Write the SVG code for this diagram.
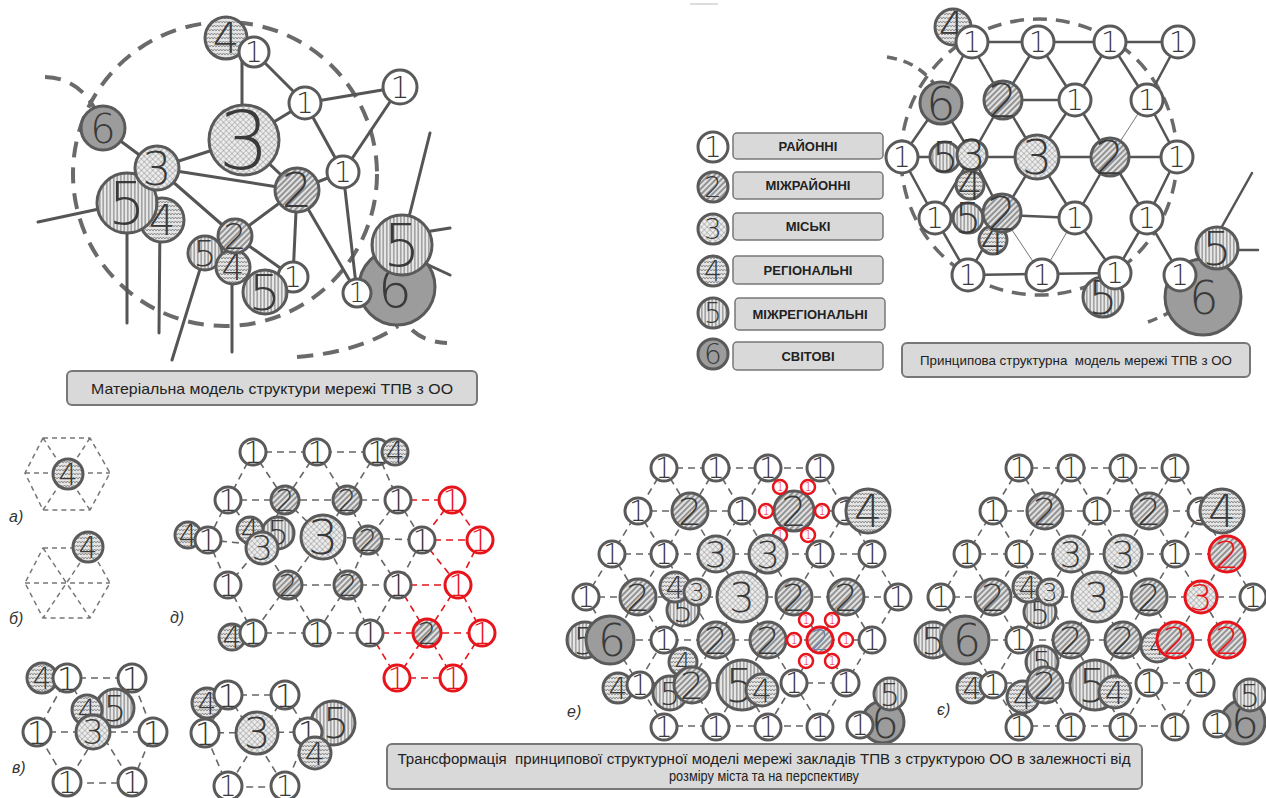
<svg xmlns="http://www.w3.org/2000/svg" width="1266" height="798" viewBox="0 0 1266 798">
<defs>
<pattern id="p2" width="4" height="4" patternUnits="userSpaceOnUse" patternTransform="rotate(45)"><rect width="4" height="4" fill="#e2e2e2"/><path d="M1,0V4" stroke="#5e5e5e" stroke-width="1.2"/></pattern>
<pattern id="p3" width="4" height="4" patternUnits="userSpaceOnUse" patternTransform="rotate(45)"><rect width="4" height="4" fill="#ececec"/><path d="M0,0H4M0,0V4" stroke="#8a8a8a" stroke-width="0.9"/></pattern>
<pattern id="p4" width="6" height="4" patternUnits="userSpaceOnUse"><rect width="6" height="4" fill="#e4e4e4"/><path d="M0,3L1.5,1L3,3L4.5,1L6,3" fill="none" stroke="#7a7a7a" stroke-width="0.8"/></pattern>
<pattern id="p5" width="3.5" height="4" patternUnits="userSpaceOnUse"><rect width="3.5" height="4" fill="#eaeaea"/><path d="M1.75,0V4" stroke="#6e6e6e" stroke-width="1"/></pattern>
</defs>
<style>
.ln{stroke:#555;stroke-width:3;fill:none;stroke-linecap:round;stroke-linejoin:round}
.lt{stroke:#777;stroke-width:1;fill:none}
.dc{fill:none;stroke:#6a6a6a;stroke-width:4;stroke-dasharray:16 10}
.dl{fill:none;stroke:#666;stroke-width:1.6;stroke-dasharray:7 5}
.dr{fill:none;stroke:#e8141b;stroke-width:1.6;stroke-dasharray:7 5}
.ds{fill:none;stroke:#777;stroke-width:1.5;stroke-dasharray:5 4}
circle{stroke:#5a5a5a;stroke-width:3}
.k1{fill:#fff}.k2{fill:url(#p2)}.k3{fill:url(#p3)}.k4{fill:url(#p4)}.k5{fill:url(#p5)}.k6{fill:#9c9c9c}
.red{stroke:#e8141b}
.sm{stroke-width:2.5}
text.d{font-family:"DejaVu Sans",sans-serif;font-weight:200;fill:#3a3a3a;text-anchor:middle}
text.rd{fill:#e8141b}
.lab{font-family:"Liberation Sans",Arial,sans-serif;font-style:italic;font-size:16px;fill:#333}
.box{fill:#d9d9d9;stroke:#777;stroke-width:2}
.cap{font-family:"Liberation Sans",Arial,sans-serif;fill:#222;text-anchor:middle}
.leg{font-family:"Liberation Sans",Arial,sans-serif;font-weight:bold;font-size:13px;fill:#222;text-anchor:middle}
</style>
<rect width="1266" height="798" fill="#fff"/>
<path d="M690,4 H718" stroke="#bbb" stroke-width="1"/>

<!-- boundaries -->
<g id="boundaries">
<circle class="dc" cx="225" cy="174" r="152"/>
<path class="dc" d="M45,77 Q80,78 97,113"/>
<path class="dc" d="M297,357 Q360,352 398,326"/>
<path class="dc" d="M412,330 Q425,342 447,343"/>
<circle class="dc" cx="1039" cy="157" r="138" style="stroke-width:3.5;stroke-dasharray:14 9"/>
<path class="dc" d="M887,57 Q920,62 937,88" style="stroke-width:3.5;stroke-dasharray:10 7"/>
<path class="dc" d="M1148,322 Q1175,312 1200,292" style="stroke-width:3.5;stroke-dasharray:10 7"/>
</g>

<g id="connectors">
<g id="conn-material">
<path class="ln" d="M103,128 L157,168 L244,140 M157,168 L297,190 M157,168 L235,236 M38,222 L127,203 M127,203 V323 M160,220 L159,333 M205,253 L172,360 M232,267 L232,352 M242,50 V140 M254,52 L305,103 L400,87 L343,172 L305,103 M244,140 L305,103 M244,140 L297,190 L343,172 L357,293 M297,190 L235,236 L293,277 L297,190 L357,293 M402,245 L430,133 M425,232 L450,228 M422,262 L450,275"/>
</g>
<g id="conn-principal">
<path class="ln" style="stroke-width:2.5" d="M970,42 H1178 M1003,100 H1075 M902,157 H1177 M1002,215 L1075,218 M968,275 L1115,273 M970,42 L940,102 L902,157 L935,218 L968,275 M970,42 L1003,100 L1037,157 L1075,218 L1115,273 M1038,42 L1003,100 L972,155 L935,218 M1038,42 L1075,100 L1110,157 L1147,218 L1180,275 L1203,297 M1110,42 L1075,100 L1037,157 L1002,215 L968,275 M1110,42 L1147,100 L1177,157 M1178,42 L1147,100 M1110,157 L1075,218 M1177,157 L1147,218 L1115,273 M940,102 L972,155 L1002,215 M1220,230 L1252,173 M1233,250 L1258,250"/>
<path class="lt" d="M1147,100 L1110,157 M1002,215 L1042,275 M1075,218 L1042,275"/>
</g>
<g id="conn-a">
<path class="ds" d="M43,438 H90 L110,473 L90,510 H43 L25,473 Z M43,438 L90,510 M90,438 L43,510 M25,473 H110"/>
</g>
<g id="conn-b">
<path class="ds" d="M43,548 H90 L110,583 L90,618 H43 L25,583 Z M43,548 L90,618 M90,548 L43,618 M25,583 H110"/>
</g>
<g id="conn-v1">
<path class="dl" d="M67,678 H132 L153,732 L132,783 H67 L37,732 Z M67,678 L132,783 M132,678 L67,783 M37,732 H153"/>
</g>
<g id="conn-v2">
<path class="dl" d="M228,695 H285 L308,732 L285,787 H228 L205,733 Z M228,695 L285,787 M285,695 L228,787 M205,733 L308,732"/>
</g>
<g id="conn-d">
<path class="dl" d="M253,452 H377 M228,500 H398 M208,540 L262,545 M323,537 L422,540 M288,585 H398 M253,633 H370 M253,452 L228,500 M253,452 L285,500 M317,452 L285,500 M317,452 L347,500 M377,452 L347,500 M377,452 L398,500 M228,500 L208,540 M228,500 L262,545 M285,500 L262,545 M285,500 L323,537 M347,500 L323,537 M347,500 L368,540 M398,500 L368,540 M398,500 L422,540 M208,540 L228,585 M262,545 L228,585 M262,545 L288,585 M323,537 L288,585 M323,537 L348,585 M368,540 L348,585 M368,540 L398,585 M422,540 L398,585 M228,585 L253,633 M288,585 L253,633 M288,585 L317,633 M348,585 L317,633 M348,585 L370,633 M398,585 L370,633"/>
<path class="dr" d="M398,500 H452 M452,500 L422,540 M452,500 L480,540 M422,540 H480 M422,540 L458,585 M480,540 L458,585 M398,585 H458 M398,585 L427,633 M458,585 L427,633 M458,585 L482,633 M370,633 H482 M370,633 L397,678 M427,633 L397,678 M427,633 L453,678 M482,633 L453,678 M397,678 H453"/>
</g>
<g id="conn-e">
<path class="dl" d="M664,468 H820 M638,511 H846 M612,554 H872 M586,597 H898 M612,640 H872 M638,683 H846 M664,726 H820 M586,597 L664,726 M612,554 L716,726 M638,511 L768,726 M664,468 L820,726 M716,468 L846,683 M768,468 L872,640 M820,468 L898,597 M820,468 L664,726 M768,468 L638,683 M716,468 L612,640 M664,468 L586,597 M846,511 L716,726 M872,554 L768,726 M898,597 L820,726"/>
</g>
<g id="conn-ye">
<path class="dl" d="M1019,468 H1175 M993,511 H1201 M967,554 H1227 M941,597 H1253 M967,640 H1227 M993,683 H1201 M1019,726 H1175 M941,597 L1019,726 M967,554 L1071,726 M993,511 L1123,726 M1019,468 L1175,726 M1071,468 L1201,683 M1123,468 L1227,640 M1175,468 L1253,597 M1175,468 L1019,726 M1123,468 L993,683 M1071,468 L967,640 M1019,468 L941,597 M1201,511 L1071,726 M1227,554 L1123,726 M1253,597 L1175,726"/>
</g>
</g>

<!-- material model nodes -->
<g id="material">
<g id="m6a"><circle class="k6" cx="103" cy="128" r="22"/><text class="d" x="103" y="143" font-size="40">6</text></g>
<g id="m4t"><circle class="k4" cx="226" cy="38" r="21"/><text class="d" x="226" y="53" font-size="42">4</text></g>
<g id="m1a"><circle class="k1" cx="254" cy="52" r="15"/><text class="d" x="254" y="62" font-size="28">1</text></g>
<g id="m1b"><circle class="k1" cx="305" cy="103" r="16"/><text class="d" x="305" y="113" font-size="28">1</text></g>
<g id="m1c"><circle class="k1" cx="400" cy="87" r="17"/><text class="d" x="400" y="98" font-size="30">1</text></g>
<g id="m3b"><circle class="k3" cx="244" cy="140" r="35"/><text class="d" x="244" y="169" font-size="80">3</text></g>
<g id="m4l"><circle class="k4" cx="162" cy="220" r="22"/><text class="d" x="162" y="235" font-size="42">4</text></g>
<g id="m5l"><circle class="k5" cx="127" cy="203" r="30"/><text class="d" x="127" y="224" font-size="58">5</text></g>
<g id="m3s"><circle class="k3" cx="157" cy="168" r="22"/><text class="d" x="157" y="185" font-size="46">3</text></g>
<g id="m1d"><circle class="k1" cx="343" cy="172" r="16"/><text class="d" x="343" y="182" font-size="28">1</text></g>
<g id="m2"><circle class="k2" cx="297" cy="190" r="22"/><text class="d" x="297" y="207" font-size="48">2</text></g>
<g id="m5s"><circle class="k5" cx="205" cy="253" r="17"/><text class="d" x="205" y="266" font-size="36">5</text></g>
<g id="m4s"><circle class="k4" cx="233" cy="267" r="17"/><text class="d" x="233" y="280" font-size="36">4</text></g>
<g id="m2s"><circle class="k2" cx="235" cy="236" r="17"/><text class="d" x="235" y="249" font-size="36">2</text></g>
<g id="m1e"><circle class="k1" cx="293" cy="277" r="15"/><text class="d" x="293" y="287" font-size="28">1</text></g>
<g id="m5b"><circle class="k5" cx="265" cy="292" r="22"/><text class="d" x="265" y="310" font-size="50">5</text></g>
<g id="m6b"><circle class="k6" cx="397" cy="287" r="38"/><text class="d" x="395" y="307" font-size="54">6</text></g>
<g id="m5r"><circle class="k5" cx="402" cy="245" r="30"/><text class="d" x="402" y="266" font-size="58">5</text></g>
<g id="m1f"><circle class="k1" cx="357" cy="293" r="14"/><text class="d" x="357" y="302" font-size="26">1</text></g>
</g>

<!-- legend -->
<g id="legend">
<g id="leg1"><circle class="k1" cx="713" cy="147" r="15"/><text class="d" x="713" y="157" font-size="28">1</text><rect class="box" x="733" y="133" width="150" height="26" rx="4" style="stroke-width:1.5"/><text class="leg" x="808" y="151">РАЙОННІ</text></g>
<g id="leg2"><circle class="k2" cx="713" cy="187" r="15"/><text class="d" x="713" y="197" font-size="28">2</text><rect class="box" x="733" y="172" width="150" height="27" rx="4" style="stroke-width:1.5"/><text class="leg" x="808" y="190">МІЖРАЙОННІ</text></g>
<g id="leg3"><circle class="k3" cx="713" cy="229" r="15"/><text class="d" x="713" y="239" font-size="28">3</text><rect class="box" x="733" y="213" width="150" height="27" rx="4" style="stroke-width:1.5"/><text class="leg" x="808" y="231">МІСЬКІ</text></g>
<g id="leg4"><circle class="k4" cx="713" cy="271" r="15"/><text class="d" x="713" y="281" font-size="28">4</text><rect class="box" x="733" y="256" width="150" height="28" rx="4" style="stroke-width:1.5"/><text class="leg" x="808" y="275">РЕГІОНАЛЬНІ</text></g>
<g id="leg5"><circle class="k5" cx="713" cy="313" r="15"/><text class="d" x="713" y="323" font-size="28">5</text><rect class="box" x="735" y="298" width="150" height="32" rx="4" style="stroke-width:1.5"/><text class="leg" x="810" y="319">МІЖРЕГІОНАЛЬНІ</text></g>
<g id="leg6"><circle class="k6" cx="713" cy="354" r="15"/><text class="d" x="713" y="364" font-size="28">6</text><rect class="box" x="733" y="342" width="150" height="28" rx="4" style="stroke-width:1.5"/><text class="leg" x="808" y="361">СВІТОВІ</text></g>
</g>

<!-- principal model nodes -->
<g id="principal">
<g id="p4t"><circle class="k4" cx="953" cy="27" r="18"/><text class="d" x="952" y="42" font-size="42">4</text></g>
<g id="pa1"><circle class="k1" cx="972" cy="42" r="16"/><text class="d" x="972" y="52" font-size="28">1</text></g>
<g id="pa2"><circle class="k1" cx="1038" cy="42" r="16"/><text class="d" x="1038" y="52" font-size="28">1</text></g>
<g id="pa3"><circle class="k1" cx="1110" cy="42" r="16"/><text class="d" x="1110" y="52" font-size="28">1</text></g>
<g id="pa4"><circle class="k1" cx="1178" cy="42" r="16"/><text class="d" x="1178" y="52" font-size="28">1</text></g>
<g id="p6"><circle class="k6" cx="941" cy="103" r="21"/><text class="d" x="941" y="120" font-size="46">6</text></g>
<g id="p2a"><circle class="k2" cx="1003" cy="100" r="19"/><text class="d" x="1003" y="117" font-size="46">2</text></g>
<g id="pb2"><circle class="k1" cx="1075" cy="100" r="16"/><text class="d" x="1075" y="110" font-size="28">1</text></g>
<g id="pb3"><circle class="k1" cx="1147" cy="100" r="16"/><text class="d" x="1147" y="110" font-size="28">1</text></g>
<g id="pc0"><circle class="k1" cx="902" cy="157" r="16"/><text class="d" x="902" y="167" font-size="28">1</text></g>
<g id="p4m"><circle class="k4" cx="970" cy="185" r="14"/><text class="d" x="970" y="200" font-size="40">4</text></g>
<g id="p5a"><circle class="k5" cx="945" cy="157" r="15"/><text class="d" x="945" y="172" font-size="42">5</text></g>
<g id="p3s"><circle class="k3" cx="972" cy="155" r="15"/><text class="d" x="972" y="170" font-size="42">3</text></g>
<g id="p3b"><circle class="k3" cx="1037" cy="157" r="22"/><text class="d" x="1037" y="174" font-size="48">3</text></g>
<g id="p2b"><circle class="k2" cx="1110" cy="157" r="19"/><text class="d" x="1110" y="174" font-size="46">2</text></g>
<g id="pc4"><circle class="k1" cx="1177" cy="157" r="16"/><text class="d" x="1177" y="167" font-size="28">1</text></g>
<g id="pd0"><circle class="k1" cx="935" cy="218" r="16"/><text class="d" x="935" y="228" font-size="28">1</text></g>
<g id="p5b"><circle class="k5" cx="968" cy="218" r="15"/><text class="d" x="968" y="233" font-size="42">5</text></g>
<g id="p4b"><circle class="k4" cx="993" cy="240" r="14"/><text class="d" x="993" y="255" font-size="40">4</text></g>
<g id="p2c"><circle class="k2" cx="1002" cy="213" r="19"/><text class="d" x="1002" y="230" font-size="46">2</text></g>
<g id="pd2"><circle class="k1" cx="1075" cy="218" r="16"/><text class="d" x="1075" y="228" font-size="28">1</text></g>
<g id="pd3"><circle class="k1" cx="1147" cy="218" r="16"/><text class="d" x="1147" y="228" font-size="28">1</text></g>
<g id="p5c"><circle class="k5" cx="1103" cy="297" r="20"/><text class="d" x="1103" y="314" font-size="46">5</text></g>
<g id="pe0"><circle class="k1" cx="968" cy="275" r="16"/><text class="d" x="968" y="285" font-size="28">1</text></g>
<g id="pe1"><circle class="k1" cx="1042" cy="275" r="16"/><text class="d" x="1042" y="285" font-size="28">1</text></g>
<g id="pe2"><circle class="k1" cx="1115" cy="273" r="16"/><text class="d" x="1115" y="283" font-size="28">1</text></g>
<g id="p6r"><circle class="k6" cx="1203" cy="297" r="38"/><text class="d" x="1204" y="314" font-size="46">6</text></g>
<g id="p5r"><circle class="k5" cx="1217" cy="248" r="21"/><text class="d" x="1217" y="265" font-size="46">5</text></g>
<g id="pe3"><circle class="k1" cx="1180" cy="275" r="16"/><text class="d" x="1180" y="285" font-size="28">1</text></g>
</g>

<!-- а), б) -->
<g id="a4"><circle class="k4" cx="68" cy="474" r="15"/><text class="d" x="68" y="485" font-size="30">4</text></g>
<g id="b4"><circle class="k4" cx="88" cy="547" r="15"/><text class="d" x="88" y="558" font-size="30">4</text></g>

<!-- в) group 1 -->
<g id="v1">
<g id="v1-4a"><circle class="k4" cx="42" cy="678" r="15"/><text class="d" x="42" y="689" font-size="30">4</text></g>
<g id="v1-1a"><circle class="k1" cx="67" cy="678" r="14"/><text class="d" x="67" y="690" font-size="32">1</text></g>
<g id="v1-1b"><circle class="k1" cx="132" cy="678" r="14"/><text class="d" x="132" y="690" font-size="32">1</text></g>
<g id="v1-1c"><circle class="k1" cx="37" cy="732" r="14"/><text class="d" x="37" y="744" font-size="32">1</text></g>
<g id="v1-5"><circle class="k5" cx="115" cy="708" r="19"/><text class="d" x="115" y="721" font-size="36">5</text></g>
<g id="v1-4b"><circle class="k4" cx="87" cy="710" r="15"/><text class="d" x="87" y="721" font-size="30">4</text></g>
<g id="v1-3"><circle class="k3" cx="93" cy="732" r="17"/><text class="d" x="93" y="744" font-size="34">3</text></g>
<g id="v1-1d"><circle class="k1" cx="153" cy="732" r="14"/><text class="d" x="153" y="744" font-size="32">1</text></g>
<g id="v1-1e"><circle class="k1" cx="67" cy="782" r="14"/><text class="d" x="67" y="793" font-size="30">1</text></g>
<g id="v1-1f"><circle class="k1" cx="132" cy="782" r="14"/><text class="d" x="132" y="793" font-size="30">1</text></g>
</g>

<!-- в) group 2 -->
<g id="v2">
<g id="v2-4a"><circle class="k4" cx="207" cy="703" r="15"/><text class="d" x="207" y="714" font-size="30">4</text></g>
<g id="v2-1a"><circle class="k1" cx="228" cy="695" r="14"/><text class="d" x="228" y="707" font-size="32">1</text></g>
<g id="v2-1b"><circle class="k1" cx="285" cy="695" r="14"/><text class="d" x="285" y="707" font-size="32">1</text></g>
<g id="v2-1c"><circle class="k1" cx="205" cy="733" r="14"/><text class="d" x="205" y="745" font-size="32">1</text></g>
<g id="v2-3"><circle class="k3" cx="257" cy="733" r="21"/><text class="d" x="257" y="748" font-size="42">3</text></g>
<g id="v2-5"><circle class="k5" cx="333" cy="723" r="22"/><text class="d" x="336" y="738" font-size="42">5</text></g>
<g id="v2-1d"><circle class="k1" cx="308" cy="732" r="14"/><text class="d" x="308" y="744" font-size="32">1</text></g>
<g id="v2-4b"><circle class="k4" cx="315" cy="753" r="16"/><text class="d" x="315" y="765" font-size="32">4</text></g>
<g id="v2-1e"><circle class="k1" cx="228" cy="786" r="14"/><text class="d" x="228" y="796" font-size="28">1</text></g>
<g id="v2-1f"><circle class="k1" cx="285" cy="786" r="14"/><text class="d" x="285" y="796" font-size="28">1</text></g>
</g>

<!-- д) -->
<g id="dd">
<g id="d-A1"><circle class="k1" cx="253" cy="452" r="13"/><text class="d" x="253" y="463" font-size="30">1</text></g>
<g id="d-A2"><circle class="k1" cx="317" cy="452" r="13"/><text class="d" x="317" y="463" font-size="30">1</text></g>
<g id="d-A3"><circle class="k1" cx="377" cy="452" r="13"/><text class="d" x="377" y="463" font-size="30">1</text></g>
<g id="d-A4"><circle class="k4" cx="395" cy="452" r="13"/><text class="d" x="395" y="463" font-size="30">4</text></g>
<g id="d-B1"><circle class="k1" cx="228" cy="500" r="13"/><text class="d" x="228" y="511" font-size="30">1</text></g>
<g id="d-B2"><circle class="k2" cx="285" cy="500" r="14"/><text class="d" x="285" y="511" font-size="30">2</text></g>
<g id="d-B3"><circle class="k2" cx="347" cy="500" r="14"/><text class="d" x="347" y="511" font-size="30">2</text></g>
<g id="d-B4"><circle class="k1" cx="398" cy="500" r="13"/><text class="d" x="398" y="511" font-size="30">1</text></g>
<g id="d-B5"><circle class="k1 red" cx="452" cy="500" r="13"/><text class="d rd" x="452" y="511" font-size="30">1</text></g>
<g id="d-C0"><circle class="k4" cx="188" cy="535" r="13"/><text class="d" x="188" y="546" font-size="30">4</text></g>
<g id="d-C1"><circle class="k1" cx="208" cy="540" r="13"/><text class="d" x="208" y="551" font-size="30">1</text></g>
<g id="d-C5x"><circle class="k5" cx="278" cy="533" r="16"/><text class="d" x="278" y="545" font-size="34">5</text></g>
<g id="d-C4x"><circle class="k4" cx="250" cy="530" r="13"/><text class="d" x="250" y="541" font-size="30">4</text></g>
<g id="d-C2"><circle class="k3" cx="262" cy="548" r="16"/><text class="d" x="262" y="560" font-size="34">3</text></g>
<g id="d-C3"><circle class="k3" cx="323" cy="537" r="22"/><text class="d" x="323" y="554" font-size="48">3</text></g>
<g id="d-C4"><circle class="k2" cx="368" cy="540" r="14"/><text class="d" x="368" y="551" font-size="30">2</text></g>
<g id="d-C5"><circle class="k1" cx="422" cy="540" r="13"/><text class="d" x="422" y="551" font-size="30">1</text></g>
<g id="d-C6"><circle class="k1 red" cx="480" cy="540" r="13"/><text class="d rd" x="480" y="551" font-size="30">1</text></g>
<g id="d-D1"><circle class="k1" cx="228" cy="585" r="13"/><text class="d" x="228" y="596" font-size="30">1</text></g>
<g id="d-D2"><circle class="k2" cx="288" cy="585" r="14"/><text class="d" x="288" y="596" font-size="30">2</text></g>
<g id="d-D3"><circle class="k2" cx="348" cy="585" r="14"/><text class="d" x="348" y="596" font-size="30">2</text></g>
<g id="d-D4"><circle class="k1" cx="398" cy="585" r="13"/><text class="d" x="398" y="596" font-size="30">1</text></g>
<g id="d-D5"><circle class="k1 red" cx="458" cy="585" r="13"/><text class="d rd" x="458" y="596" font-size="30">1</text></g>
<g id="d-E0"><circle class="k4" cx="232" cy="637" r="13"/><text class="d" x="232" y="648" font-size="30">4</text></g>
<g id="d-E1"><circle class="k1" cx="253" cy="633" r="13"/><text class="d" x="253" y="644" font-size="30">1</text></g>
<g id="d-E2"><circle class="k1" cx="317" cy="633" r="13"/><text class="d" x="317" y="644" font-size="30">1</text></g>
<g id="d-E3"><circle class="k1" cx="370" cy="633" r="13"/><text class="d" x="370" y="644" font-size="30">1</text></g>
<g id="d-E4"><circle class="k2 red" cx="427" cy="633" r="14"/><text class="d" x="427" y="644" font-size="30">2</text></g>
<g id="d-E5"><circle class="k1 red" cx="482" cy="633" r="13"/><text class="d rd" x="482" y="644" font-size="30">1</text></g>
<g id="d-F1"><circle class="k1 red" cx="397" cy="678" r="13"/><text class="d rd" x="397" y="689" font-size="30">1</text></g>
<g id="d-F2"><circle class="k1 red" cx="453" cy="678" r="13"/><text class="d rd" x="453" y="689" font-size="30">1</text></g>
</g>

<!-- е) -->
<g id="ee">
<g id="e-a1"><circle class="k1" cx="664" cy="468" r="13"/><text class="d" x="664" y="478" font-size="28">1</text></g>
<g id="e-a2"><circle class="k1" cx="716" cy="468" r="13"/><text class="d" x="716" y="478" font-size="28">1</text></g>
<g id="e-a3"><circle class="k1" cx="768" cy="468" r="13"/><text class="d" x="768" y="478" font-size="28">1</text></g>
<g id="e-a4"><circle class="k1" cx="820" cy="468" r="13"/><text class="d" x="820" y="478" font-size="28">1</text></g>
<g id="e-b1"><circle class="k1" cx="638" cy="511" r="13"/><text class="d" x="638" y="521" font-size="28">1</text></g>
<g id="e-b2"><circle class="k2" cx="690" cy="511" r="18"/><text class="d" x="690" y="525" font-size="38">2</text></g>
<g id="e-b3"><circle class="k1" cx="742" cy="511" r="13"/><text class="d" x="742" y="521" font-size="28">1</text></g>
<g id="e-b4"><circle class="k2" cx="794" cy="511" r="20"/><text class="d" x="794" y="526" font-size="40">2</text></g>
<g id="e-b5"><circle class="k1" cx="846" cy="511" r="13"/><text class="d" x="846" y="521" font-size="28">1</text></g>
<g id="e-b6"><circle class="k4" cx="868" cy="511" r="22"/><text class="d" x="868" y="527" font-size="44">4</text></g>
<g id="e-r1"><circle class="k1 red sm" cx="780" cy="487" r="7"/><text class="d rd" x="780" y="491" font-size="12">1</text></g>
<g id="e-r2"><circle class="k1 red sm" cx="808" cy="487" r="7"/><text class="d rd" x="808" y="491" font-size="12">1</text></g>
<g id="e-r3"><circle class="k1 red sm" cx="766" cy="511" r="7"/><text class="d rd" x="766" y="515" font-size="12">1</text></g>
<g id="e-r4"><circle class="k1 red sm" cx="822" cy="511" r="7"/><text class="d rd" x="822" y="515" font-size="12">1</text></g>
<g id="e-r5"><circle class="k1 red sm" cx="780" cy="535" r="7"/><text class="d rd" x="780" y="539" font-size="12">1</text></g>
<g id="e-r6"><circle class="k1 red sm" cx="808" cy="535" r="7"/><text class="d rd" x="808" y="539" font-size="12">1</text></g>
<g id="e-c1"><circle class="k1" cx="612" cy="554" r="13"/><text class="d" x="612" y="564" font-size="28">1</text></g>
<g id="e-c2"><circle class="k1" cx="664" cy="554" r="13"/><text class="d" x="664" y="564" font-size="28">1</text></g>
<g id="e-c3"><circle class="k3" cx="716" cy="554" r="18"/><text class="d" x="716" y="567" font-size="36">3</text></g>
<g id="e-c4"><circle class="k3" cx="768" cy="554" r="19"/><text class="d" x="768" y="568" font-size="38">3</text></g>
<g id="e-c5"><circle class="k1" cx="820" cy="554" r="13"/><text class="d" x="820" y="564" font-size="28">1</text></g>
<g id="e-c6"><circle class="k1" cx="872" cy="554" r="13"/><text class="d" x="872" y="564" font-size="28">1</text></g>
<g id="e-d1"><circle class="k1" cx="586" cy="597" r="13"/><text class="d" x="586" y="607" font-size="28">1</text></g>
<g id="e-d2"><circle class="k2" cx="638" cy="597" r="18"/><text class="d" x="638" y="611" font-size="38">2</text></g>
<g id="e-d5x"><circle class="k5" cx="683" cy="610" r="16"/><text class="d" x="683" y="622" font-size="32">5</text></g>
<g id="e-d4x"><circle class="k4" cx="675" cy="587" r="15"/><text class="d" x="675" y="598" font-size="30">4</text></g>
<g id="e-d3x"><circle class="k3" cx="697" cy="592" r="13"/><text class="d" x="697" y="601" font-size="24">3</text></g>
<g id="e-d3"><circle class="k3" cx="742" cy="597" r="25"/><text class="d" x="742" y="612" font-size="40">3</text></g>
<g id="e-d4"><circle class="k2" cx="794" cy="597" r="18"/><text class="d" x="794" y="611" font-size="38">2</text></g>
<g id="e-d5"><circle class="k2" cx="846" cy="597" r="18"/><text class="d" x="846" y="611" font-size="38">2</text></g>
<g id="e-d6"><circle class="k1" cx="898" cy="597" r="13"/><text class="d" x="898" y="607" font-size="28">1</text></g>
<g id="e-f5"><circle class="k5" cx="585" cy="640" r="18"/><text class="d" x="585" y="654" font-size="38">5</text></g>
<g id="e-f6"><circle class="k6" cx="610" cy="640" r="24"/><text class="d" x="612" y="656" font-size="44">6</text></g>
<g id="e-f1"><circle class="k1" cx="664" cy="640" r="13"/><text class="d" x="664" y="650" font-size="28">1</text></g>
<g id="e-f2"><circle class="k2" cx="716" cy="640" r="18"/><text class="d" x="716" y="654" font-size="38">2</text></g>
<g id="e-f3"><circle class="k2" cx="768" cy="640" r="18"/><text class="d" x="768" y="654" font-size="38">2</text></g>
<g id="e-f4"><circle class="k2 red" cx="820" cy="640" r="13"/><text class="d" x="820" y="650" font-size="28" style="fill:#6d7ea8">2</text></g>
<g id="e-f7"><circle class="k1" cx="872" cy="640" r="13"/><text class="d" x="872" y="650" font-size="28">1</text></g>
<g id="e-s1"><circle class="k1 red sm" cx="806" cy="620" r="7"/><text class="d rd" x="806" y="624" font-size="12">1</text></g>
<g id="e-s2"><circle class="k1 red sm" cx="832" cy="620" r="7"/><text class="d rd" x="832" y="624" font-size="12">1</text></g>
<g id="e-s3"><circle class="k1 red sm" cx="794" cy="640" r="7"/><text class="d rd" x="794" y="644" font-size="12">1</text></g>
<g id="e-s4"><circle class="k1 red sm" cx="846" cy="640" r="7"/><text class="d rd" x="846" y="644" font-size="12">1</text></g>
<g id="e-s5"><circle class="k1 red sm" cx="806" cy="661" r="7"/><text class="d rd" x="806" y="665" font-size="12">1</text></g>
<g id="e-s6"><circle class="k1 red sm" cx="832" cy="661" r="7"/><text class="d rd" x="832" y="665" font-size="12">1</text></g>
<g id="e-g4a"><circle class="k4" cx="618" cy="688" r="15"/><text class="d" x="618" y="699" font-size="30">4</text></g>
<g id="e-g1"><circle class="k1" cx="640" cy="685" r="13"/><text class="d" x="640" y="695" font-size="28">1</text></g>
<g id="e-g4s"><circle class="k4" cx="683" cy="662" r="14"/><text class="d" x="683" y="672" font-size="26">4</text></g>
<g id="e-g5"><circle class="k5" cx="670" cy="693" r="17"/><text class="d" x="670" y="705" font-size="32">5</text></g>
<g id="e-g2"><circle class="k2" cx="692" cy="685" r="18"/><text class="d" x="692" y="699" font-size="38">2</text></g>
<g id="e-g5b"><circle class="k5" cx="742" cy="685" r="25"/><text class="d" x="740" y="702" font-size="46">5</text></g>
<g id="e-g4b"><circle class="k4" cx="762" cy="690" r="16"/><text class="d" x="762" y="702" font-size="32">4</text></g>
<g id="e-g7"><circle class="k1" cx="794" cy="683" r="13"/><text class="d" x="794" y="693" font-size="28">1</text></g>
<g id="e-g8"><circle class="k1" cx="846" cy="683" r="13"/><text class="d" x="846" y="693" font-size="28">1</text></g>
<g id="e-h1"><circle class="k1" cx="664" cy="727" r="13"/><text class="d" x="664" y="737" font-size="28">1</text></g>
<g id="e-h2"><circle class="k1" cx="716" cy="727" r="13"/><text class="d" x="716" y="737" font-size="28">1</text></g>
<g id="e-h3"><circle class="k1" cx="768" cy="727" r="13"/><text class="d" x="768" y="737" font-size="28">1</text></g>
<g id="e-h4"><circle class="k1" cx="820" cy="727" r="13"/><text class="d" x="820" y="737" font-size="28">1</text></g>
<g id="e-h6"><circle class="k6" cx="883" cy="722" r="21"/><text class="d" x="885" y="738" font-size="44">6</text></g>
<g id="e-h5"><circle class="k5" cx="890" cy="694" r="16"/><text class="d" x="890" y="706" font-size="32">5</text></g>
<g id="e-h1x"><circle class="k1" cx="860" cy="725" r="13"/><text class="d" x="860" y="735" font-size="28">1</text></g>
</g>

<!-- є) -->
<g id="ye">
<g id="y-a1"><circle class="k1" cx="1019" cy="468" r="13"/><text class="d" x="1019" y="478" font-size="28">1</text></g>
<g id="y-a2"><circle class="k1" cx="1071" cy="468" r="13"/><text class="d" x="1071" y="478" font-size="28">1</text></g>
<g id="y-a3"><circle class="k1" cx="1123" cy="468" r="13"/><text class="d" x="1123" y="478" font-size="28">1</text></g>
<g id="y-a4"><circle class="k1" cx="1175" cy="468" r="13"/><text class="d" x="1175" y="478" font-size="28">1</text></g>
<g id="y-b1"><circle class="k1" cx="993" cy="511" r="13"/><text class="d" x="993" y="521" font-size="28">1</text></g>
<g id="y-b2"><circle class="k2" cx="1045" cy="511" r="18"/><text class="d" x="1045" y="525" font-size="38">2</text></g>
<g id="y-b3"><circle class="k1" cx="1097" cy="511" r="13"/><text class="d" x="1097" y="521" font-size="28">1</text></g>
<g id="y-b4"><circle class="k2" cx="1149" cy="511" r="18"/><text class="d" x="1149" y="525" font-size="38">2</text></g>
<g id="y-b5"><circle class="k1" cx="1201" cy="511" r="13"/><text class="d" x="1201" y="521" font-size="28">1</text></g>
<g id="y-b6"><circle class="k4" cx="1222" cy="511" r="22"/><text class="d" x="1222" y="527" font-size="44">4</text></g>
<g id="y-c1"><circle class="k1" cx="967" cy="554" r="13"/><text class="d" x="967" y="564" font-size="28">1</text></g>
<g id="y-c2"><circle class="k1" cx="1019" cy="554" r="13"/><text class="d" x="1019" y="564" font-size="28">1</text></g>
<g id="y-c3"><circle class="k3" cx="1071" cy="554" r="18"/><text class="d" x="1071" y="567" font-size="36">3</text></g>
<g id="y-c4"><circle class="k3" cx="1123" cy="554" r="19"/><text class="d" x="1123" y="568" font-size="38">3</text></g>
<g id="y-c5"><circle class="k1" cx="1175" cy="554" r="13"/><text class="d" x="1175" y="564" font-size="28">1</text></g>
<g id="y-c6"><circle class="k2 red" cx="1227" cy="554" r="18"/><text class="d rd" x="1227" y="568" font-size="38">2</text></g>
<g id="y-d1"><circle class="k1" cx="941" cy="597" r="13"/><text class="d" x="941" y="607" font-size="28">1</text></g>
<g id="y-d2"><circle class="k2" cx="993" cy="597" r="18"/><text class="d" x="993" y="611" font-size="38">2</text></g>
<g id="y-d5x"><circle class="k5" cx="1040" cy="612" r="16"/><text class="d" x="1040" y="624" font-size="32">5</text></g>
<g id="y-d4x"><circle class="k4" cx="1028" cy="587" r="15"/><text class="d" x="1028" y="598" font-size="30">4</text></g>
<g id="y-d3x"><circle class="k3" cx="1050" cy="592" r="13"/><text class="d" x="1050" y="601" font-size="24">3</text></g>
<g id="y-d3"><circle class="k3" cx="1097" cy="597" r="25"/><text class="d" x="1097" y="612" font-size="40">3</text></g>
<g id="y-d4"><circle class="k2" cx="1149" cy="597" r="18"/><text class="d" x="1149" y="611" font-size="38">2</text></g>
<g id="y-d5"><circle class="k3 red" cx="1201" cy="597" r="16"/><text class="d rd" x="1201" y="610" font-size="36">3</text></g>
<g id="y-d6"><circle class="k1" cx="1253" cy="597" r="13"/><text class="d" x="1253" y="607" font-size="28">1</text></g>
<g id="y-f5"><circle class="k5" cx="933" cy="640" r="18"/><text class="d" x="933" y="654" font-size="38">5</text></g>
<g id="y-f6"><circle class="k6" cx="965" cy="640" r="24"/><text class="d" x="967" y="656" font-size="44">6</text></g>
<g id="y-f1"><circle class="k1" cx="1019" cy="640" r="13"/><text class="d" x="1019" y="650" font-size="28">1</text></g>
<g id="y-f2"><circle class="k2" cx="1071" cy="640" r="18"/><text class="d" x="1071" y="654" font-size="38">2</text></g>
<g id="y-f3"><circle class="k2" cx="1123" cy="640" r="18"/><text class="d" x="1123" y="654" font-size="38">2</text></g>
<g id="y-f4x"><circle class="k4" cx="1157" cy="646" r="16"/><text class="d" x="1157" y="655" font-size="24">4</text></g>
<g id="y-f4"><circle class="k2 red" cx="1175" cy="640" r="18"/><text class="d rd" x="1175" y="654" font-size="38">2</text></g>
<g id="y-f7"><circle class="k2 red" cx="1227" cy="640" r="18"/><text class="d rd" x="1227" y="654" font-size="38">2</text></g>
<g id="y-g4a"><circle class="k4" cx="972" cy="688" r="15"/><text class="d" x="972" y="699" font-size="30">4</text></g>
<g id="y-g1"><circle class="k1" cx="993" cy="685" r="13"/><text class="d" x="993" y="695" font-size="28">1</text></g>
<g id="y-g5s"><circle class="k5" cx="1042" cy="662" r="16"/><text class="d" x="1042" y="674" font-size="32">5</text></g>
<g id="y-g4s"><circle class="k4" cx="1023" cy="697" r="16"/><text class="d" x="1023" y="709" font-size="32">4</text></g>
<g id="y-g2"><circle class="k2" cx="1045" cy="685" r="18"/><text class="d" x="1045" y="699" font-size="38">2</text></g>
<g id="y-g5b"><circle class="k5" cx="1095" cy="685" r="25"/><text class="d" x="1093" y="702" font-size="46">5</text></g>
<g id="y-g4b"><circle class="k4" cx="1115" cy="692" r="16"/><text class="d" x="1115" y="704" font-size="32">4</text></g>
<g id="y-g7"><circle class="k1" cx="1149" cy="683" r="13"/><text class="d" x="1149" y="693" font-size="28">1</text></g>
<g id="y-g8"><circle class="k1" cx="1201" cy="683" r="13"/><text class="d" x="1201" y="693" font-size="28">1</text></g>
<g id="y-h1"><circle class="k1" cx="1019" cy="727" r="13"/><text class="d" x="1019" y="737" font-size="28">1</text></g>
<g id="y-h2"><circle class="k1" cx="1071" cy="727" r="13"/><text class="d" x="1071" y="737" font-size="28">1</text></g>
<g id="y-h3"><circle class="k1" cx="1123" cy="727" r="13"/><text class="d" x="1123" y="737" font-size="28">1</text></g>
<g id="y-h4"><circle class="k1" cx="1175" cy="727" r="13"/><text class="d" x="1175" y="737" font-size="28">1</text></g>
<g id="y-h6"><circle class="k6" cx="1243" cy="722" r="22"/><text class="d" x="1245" y="738" font-size="44">6</text></g>
<g id="y-h5"><circle class="k5" cx="1250" cy="695" r="16"/><text class="d" x="1250" y="707" font-size="32">5</text></g>
<g id="y-h1x"><circle class="k1" cx="1217" cy="724" r="13"/><text class="d" x="1217" y="734" font-size="28">1</text></g>
</g>

<!-- labels -->
<g id="labels">
<text class="lab" x="9" y="522">а)</text>
<text class="lab" x="9" y="624">б)</text>
<text class="lab" x="12" y="773">в)</text>
<text class="lab" x="170" y="623">д)</text>
<text class="lab" x="567" y="717">е)</text>
<text class="lab" x="937" y="715">є)</text>
</g>

<!-- captions -->
<g id="cap1"><rect class="box" x="67" y="371" width="410" height="34" rx="5"/><text class="cap" x="272" y="394" font-size="15" textLength="362" lengthAdjust="spacingAndGlyphs">Матеріальна модель структури мережі ТПВ з ОО</text></g>
<g id="cap2"><rect class="box" x="902" y="343" width="348" height="34" rx="5"/><text class="cap" x="1076" y="365" font-size="13" textLength="312" lengthAdjust="spacingAndGlyphs" xml:space="preserve">Принципова структурна  модель мережі ТПВ з ОО</text></g>
<g id="cap3"><rect class="box" x="387" y="744" width="755" height="45" rx="5"/><text class="cap" x="764" y="764" font-size="14" textLength="733" lengthAdjust="spacingAndGlyphs" xml:space="preserve">Трансформація  принципової структурної моделі мережі закладів ТПВ з структурою ОО в залежності від</text><text class="cap" x="764" y="781" font-size="14" textLength="190" lengthAdjust="spacingAndGlyphs">розміру міста та на перспективу</text></g>
</svg>
